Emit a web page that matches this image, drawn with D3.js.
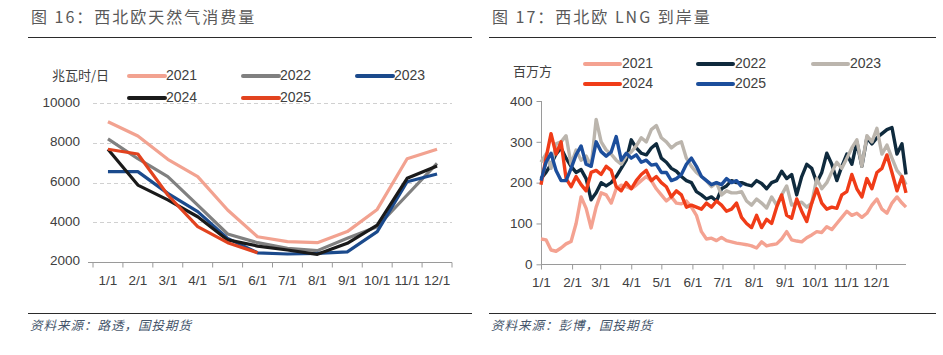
<!DOCTYPE html>
<html><head><meta charset="utf-8">
<script src="https://cdn.jsdelivr.net/npm/d3@7"></script>
<style>body{margin:0;background:#fff}svg{display:block}</style>
</head><body><svg id="c" width="943" height="355"></svg>
<script>
// ---------- Left chart data (兆瓦时/日) ----------
const months = ["1/1","2/1","3/1","4/1","5/1","6/1","7/1","8/1","9/1","10/1","11/1","12/1"];
const cons2021 = [9070, 8350, 7170, 6300, 4610, 3260, 3010, 2960, 3520, 4640, 7200, 7680];
const cons2022 = [8200, 7200, 6300, 4860, 3400, 2960, 2670, 2560, 3180, 3770, 5370, 6970];
const cons2023 = [6550, 6550, 5450, 4530, 3180, 2450, 2390, 2420, 2500, 3520, 6040, 6430];
const cons2024 = [7680, 5870, 5120, 4270, 3100, 2790, 2590, 2370, 2930, 3850, 6210, 6830];
const cons2025 = [7680, 7440, 5370, 3770, 2960, 2450];
const consTicks = [2000, 4000, 6000, 8000, 10000];

// ---------- Right chart data (百万方) ----------
const lngDays = [0,5,10,15,20,25,30,35,40,45,50,55,60,65,70,75,80,85,90,95,100,105,110,115,120,125,130,135,140,145,150,155,160,165,170,175,180,185,190,195,200,205,210,215,220,225,230,235,240,245,250,255,260,265,270,275,280,285,290,295,300,305,310,315,320,325,330,335,340,345,350,355,360,364];
const lng2021 = [62,60,35,32,40,50,56,100,165,137,89,140,175,170,150,185,194,190,185,194,205,215,205,185,170,155,165,150,148,155,140,120,80,62,64,58,66,58,55,52,50,48,45,40,55,45,48,50,62,80,60,57,55,65,72,80,78,92,85,100,115,130,120,125,115,125,145,160,135,125,150,165,150,140];
const lng2022 = [210,225,245,270,285,260,240,225,232,210,158,175,200,192,200,215,235,255,305,285,272,268,285,295,260,250,235,228,215,205,200,178,170,160,165,155,185,192,205,200,200,195,192,205,198,185,200,205,228,210,220,170,215,245,235,200,225,272,245,205,240,270,245,300,240,310,295,310,320,330,335,270,295,220];
const lng2023 = [250,270,235,295,300,315,245,280,255,265,240,355,300,280,270,255,245,265,275,290,310,300,330,340,310,300,285,295,300,260,240,225,215,205,190,200,170,180,175,175,178,155,145,160,150,138,165,145,170,192,145,150,152,140,150,210,185,200,226,250,235,260,285,305,240,315,300,333,270,292,260,230,215,195];
const lng2024 = [195,260,320,270,300,210,190,215,195,180,225,230,220,240,230,190,180,200,185,205,220,230,205,215,200,190,165,180,170,140,145,140,135,150,140,155,145,130,135,150,115,100,90,120,90,110,100,140,170,120,113,160,130,105,150,185,150,135,140,137,170,178,220,185,165,210,185,225,235,268,225,180,215,175];
const lng2025 = [205,250,272,230,205,205,235,268,290,245,240,300,276,265,275,313,255,272,260,268,250,255,243,245,225,225,205,210,220,245,260,240,215,205,195,200,195,210,200,205,190];
const lngTicks = [0, 100, 200, 300, 400];
const monthStartDays = [0,31,59,90,120,151,181,212,243,273,304,334];
const years = ["2021","2022","2023","2024","2025"];

const svg = d3.select("#c");
const CJK = "'Noto Sans CJK SC','Noto Sans',sans-serif";
const NUM = "'Liberation Sans',Arial,sans-serif";
const txtCol = "#404040";

// ---------- Headers / footers ----------
function header(x, x2, title, src) {
  svg.append("text").attr("x", x + 3).attr("y", 19).text(title)
    .attr("font-family", CJK).attr("font-size", 16).attr("fill", "#595959")
    .attr("letter-spacing", "2px").attr("dominant-baseline", "middle");
  svg.append("line").attr("x1", x).attr("x2", x2).attr("y1", 37.5).attr("y2", 37.5)
    .attr("stroke", "#2b2b2b").attr("stroke-width", 1.2);
  svg.append("line").attr("x1", x).attr("x2", x2).attr("y1", 313.5).attr("y2", 313.5)
    .attr("stroke", "#2b2b2b").attr("stroke-width", 1.2);
  svg.append("text").attr("x", x + 2).attr("y", 327).text(src)
    .attr("font-family", CJK).attr("font-size", 12.5).attr("fill", "#44546a")
    .attr("font-style", "italic").attr("letter-spacing", "1px").attr("dominant-baseline", "middle");
}
header(28, 472, "图 16：西北欧天然气消费量", "资料来源：路透，国投期货");
header(489, 936, "图 17：西北欧 LNG 到岸量", "资料来源：彭博，国投期货");

// ---------- Left chart ----------
(function () {
  const x = d3.scaleBand().domain(months).range([93, 452]);
  const y = d3.scaleLinear().domain([2000, 10000]).range([261.7, 103.3]);
  const g = svg.append("g");
  g.selectAll(".grid").data(consTicks.slice(1)).join("line")
    .attr("x1", 93).attr("x2", 452).attr("y1", d => Math.round(y(d)) + 0.5).attr("y2", d => Math.round(y(d)) + 0.5)
    .attr("stroke", "#d0d0d0").attr("stroke-dasharray", "4,3");
  g.selectAll(".yl").data(consTicks).join("text")
    .attr("x", 80).attr("y", d => y(d)).text(d => d)
    .attr("text-anchor", "end").attr("dominant-baseline", "middle")
    .attr("font-family", NUM).attr("font-size", 13.5).attr("fill", txtCol);
  const xa = g.append("g").attr("transform", `translate(0,${Math.round(y(2000)) + 0.5})`)
    .call(d3.axisBottom(x).tickSize(0).tickPadding(13));
  xa.select(".domain").attr("stroke", "#9a9a9a").attr("d", "M88,0H452");
  xa.selectAll("text").attr("font-family", NUM).attr("font-size", 13.5).attr("fill", txtCol);
  const edges = months.map(m => x(m)).concat([452]);
  xa.selectAll(".edge").data(edges).join("line")
    .attr("x1", d => d).attr("x2", d => d).attr("y1", 0).attr("y2", 5).attr("stroke", "#9a9a9a");
  const line = d3.line().x((d, i) => x(months[i]) + x.bandwidth() / 2).y(d => y(d));
  const cols = ["#f2a290", "#808080", "#1b4a8c", "#1a1a1a", "#e2431f"];
  const series = [cons2021, cons2022, cons2023, cons2024, cons2025];
  series.forEach((s, i) => {
    g.append("path").datum(s).attr("d", line).attr("fill", "none")
      .attr("stroke", cols[i]).attr("stroke-width", 3.2).attr("stroke-linejoin", "round");
  });
  g.append("text").attr("x", 52).attr("y", 76).text("兆瓦时/日")
    .attr("font-family", CJK).attr("font-size", 13).attr("fill", txtCol).attr("dominant-baseline", "middle");
  const lpos = [[129, 76], [243, 76], [357, 76], [129, 98], [243, 98]];
  years.forEach((yr, i) => {
    const [lx, ly] = lpos[i];
    g.append("line").attr("x1", lx).attr("x2", lx + 36).attr("y1", ly).attr("y2", ly)
      .attr("stroke", cols[i]).attr("stroke-width", 4).attr("stroke-linecap", "round");
    g.append("text").attr("x", lx + 37).attr("y", ly).text(yr)
      .attr("font-family", NUM).attr("font-size", 14).attr("fill", txtCol).attr("dominant-baseline", "middle");
  });
})();

// ---------- Right chart ----------
(function () {
  const x = d3.scaleLinear().domain([0, 364]).range([541, 906]);
  const y = d3.scaleLinear().domain([0, 400]).range([264.3, 101]);
  const g = svg.append("g");
  const ya = g.append("g").attr("transform", "translate(541.5,0)")
    .call(d3.axisLeft(y).tickValues(lngTicks).tickSize(5).tickPadding(4));
  ya.select(".domain").attr("stroke", "#9a9a9a").attr("d", `M0,${y(400)}V${y(0)}`);
  ya.selectAll(".tick line").attr("stroke", "#9a9a9a");
  ya.selectAll("text").attr("font-family", NUM).attr("font-size", 13.5).attr("fill", txtCol);
  const xa = g.append("g").attr("transform", `translate(0,${Math.round(y(0)) + 0.5})`)
    .call(d3.axisBottom(x).tickValues(monthStartDays).tickFormat((d, i) => months[i]).tickSize(5).tickPadding(8));
  xa.select(".domain").attr("stroke", "#9a9a9a").attr("d", "M541,0H906");
  xa.selectAll(".tick line").attr("stroke", "#9a9a9a");
  xa.selectAll("text").attr("font-family", NUM).attr("font-size", 13.5).attr("fill", txtCol);
  const cols = ["#f4a291", "#0f2a3d", "#bbb5ad", "#f03c18", "#1c4e9c"];
  const series = [lng2021, lng2022, lng2023, lng2024, lng2025];
  const line = d3.line().x((d, i) => x(lngDays[i])).y(d => y(d));
  series.forEach((s, i) => {
    g.append("path").datum(s).attr("d", line).attr("fill", "none")
      .attr("stroke", cols[i]).attr("stroke-width", 3.4).attr("stroke-linejoin", "round");
  });
  g.append("text").attr("x", 513).attr("y", 72).text("百万方")
    .attr("font-family", CJK).attr("font-size", 13).attr("fill", txtCol).attr("dominant-baseline", "middle");
  const lpos = [[585, 64], [698, 64], [813, 64], [585, 84], [698, 84]];
  years.forEach((yr, i) => {
    const [lx, ly] = lpos[i];
    g.append("line").attr("x1", lx).attr("x2", lx + 35).attr("y1", ly).attr("y2", ly)
      .attr("stroke", cols[i]).attr("stroke-width", 4).attr("stroke-linecap", "round");
    g.append("text").attr("x", lx + 37).attr("y", ly).text(yr)
      .attr("font-family", NUM).attr("font-size", 14).attr("fill", txtCol).attr("dominant-baseline", "middle");
  });
})();
</script></body></html>
